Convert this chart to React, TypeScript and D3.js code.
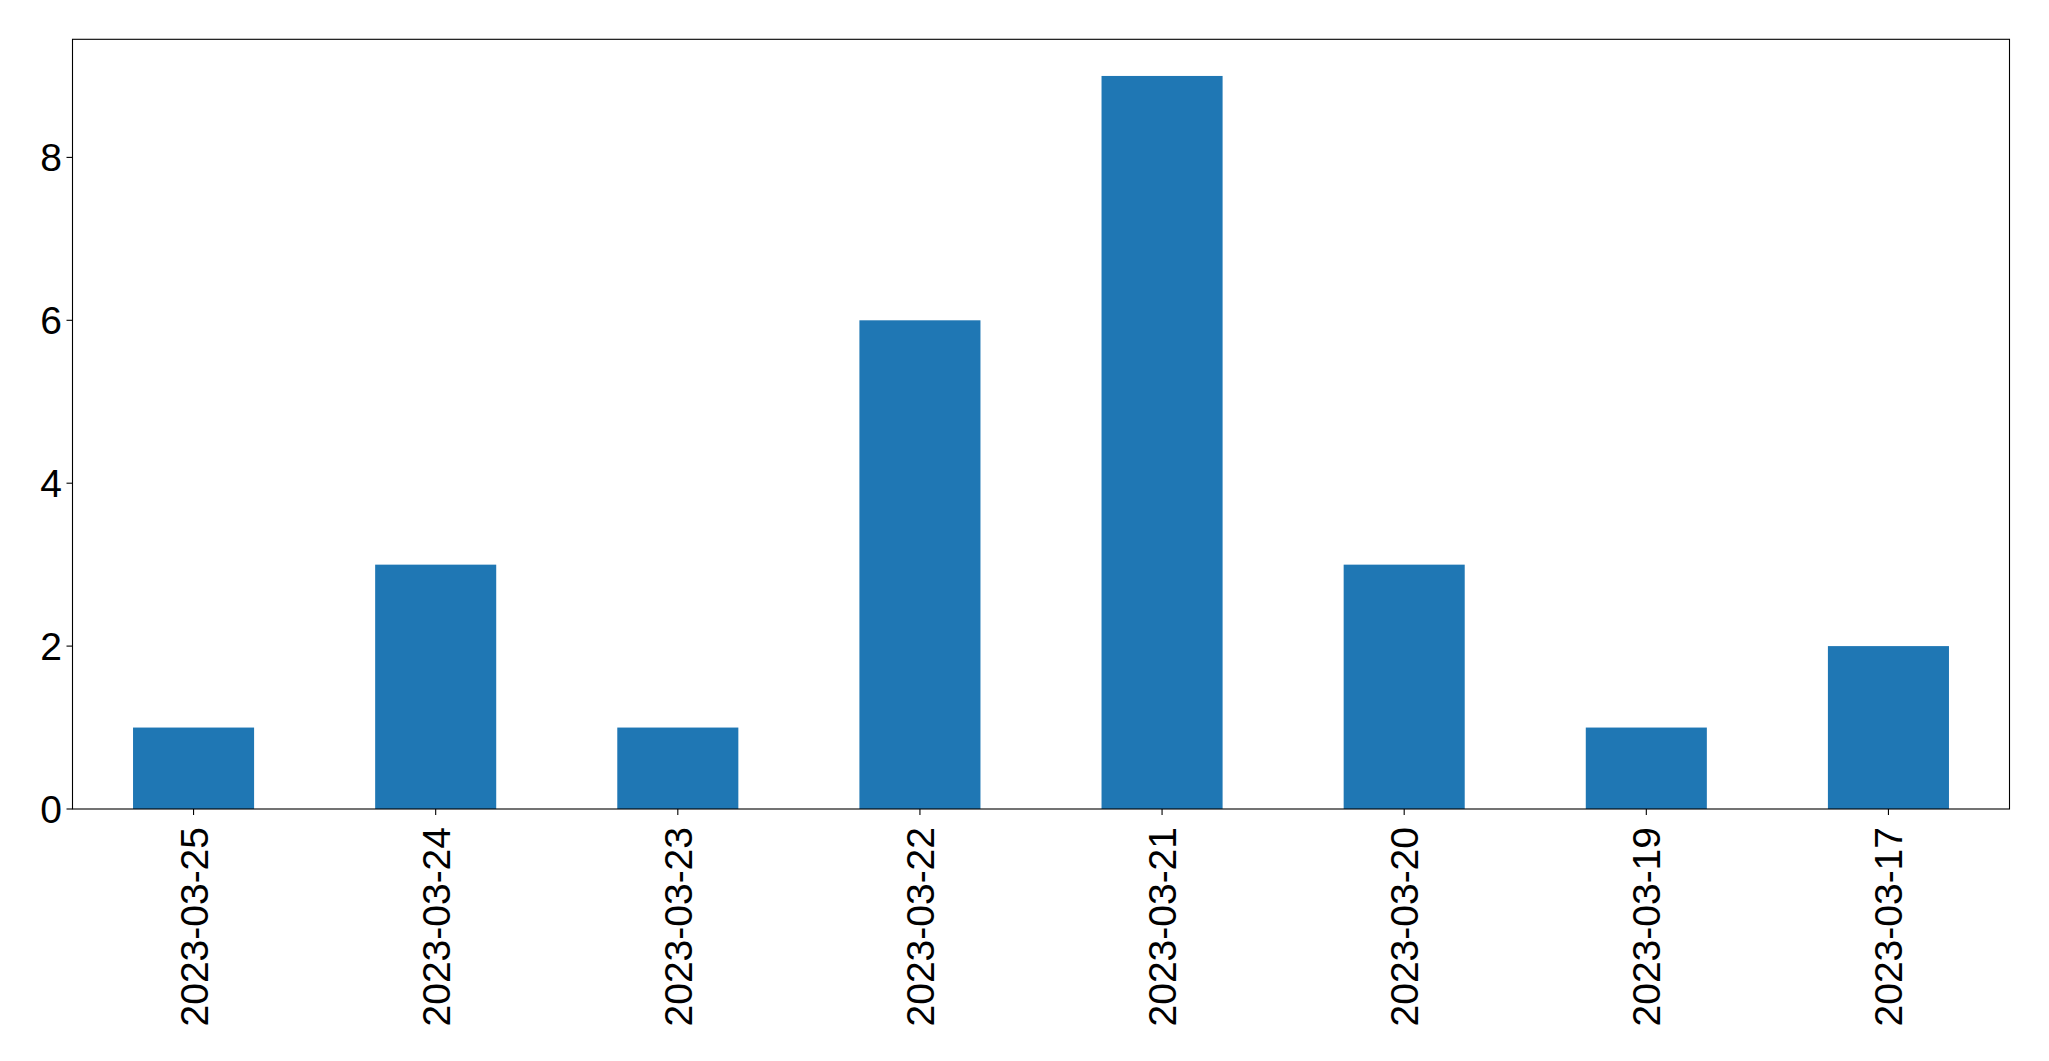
import React from "react";
import * as d3 from "d3";

const categories = ["2023-03-25", "2023-03-24", "2023-03-23", "2023-03-22", "2023-03-21", "2023-03-20", "2023-03-19", "2023-03-17"];
const values = [1, 3, 1, 6, 9, 3, 1, 2];
const yTicks = [0, 2, 4, 6, 8];

export default function App() {
  const W = 2049, H = 1061;
  const left = 72.5, right = 2009.5, top = 39.3, bottom = 809;
  const x = d3.scaleLinear().domain([-0.5, categories.length - 0.5]).range([left, right]);
  const y = d3.scaleLinear().domain([0, d3.max(values)! * 1.05]).range([bottom, top]);
  const bw = (x(0.25) - x(-0.25));
  const font = "'Liberation Sans', Arial, sans-serif";
  const fs = 39;
  return (
    <svg width={W} height={H} style={{ position: "absolute", left: 0, top: 0, background: "#fff" }}>
      <rect x={0} y={0} width={W} height={H} fill="#fff" />
      {values.map((v, i) => (
        <rect key={i} x={x(i) - bw / 2} y={y(v)} width={bw} height={y(0) - y(v)} fill="#1f77b4" />
      ))}
      <rect x={left} y={top} width={right - left} height={bottom - top} fill="none" stroke="#000" strokeWidth={1.1} />
      {yTicks.map((t) => (
        <g key={t}>
          <line x1={left - 6} x2={left} y1={y(t)} y2={y(t)} stroke="#000" strokeWidth={1.1} />
          <text x={left - 10.5} y={y(t)} dy="0.36em" textAnchor="end" fontFamily={font} fontSize={fs} fill="#000">{t}</text>
        </g>
      ))}
      {categories.map((c, i) => (
        <g key={c}>
          <line x1={x(i)} x2={x(i)} y1={bottom} y2={bottom + 6} stroke="#000" strokeWidth={1.1} />
          <text transform={`translate(${x(i)},${bottom + 18}) rotate(-90)`} dy="0.36em" textAnchor="end" fontFamily={font} fontSize={fs} fill="#000">{c}</text>
        </g>
      ))}
    </svg>
  );
}
